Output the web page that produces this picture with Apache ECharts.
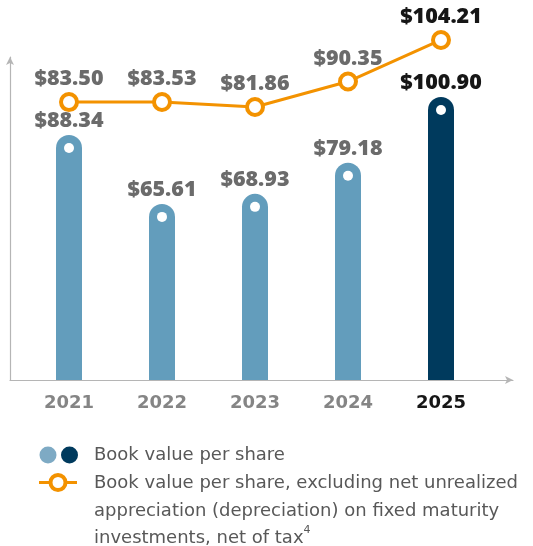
<!DOCTYPE html>
<html>
<head>
<meta charset="utf-8">
<script src="https://cdn.jsdelivr.net/npm/echarts@6/dist/echarts.min.js"></script>
<style>
  html, body { margin: 0; padding: 0; background: #fff; }
  #main { width: 533px; height: 546px; }
</style>
</head>
<body>
<div id="main"></div>
<script>
var years = ['2021', '2022', '2023', '2024', '2025'];
var bookValue = [88.34, 65.61, 68.93, 79.18, 100.90];
var bookValueExAoci = [83.50, 83.53, 81.86, 90.35, 104.21];

var gray = '#6b6b6b';
var black = '#161616';
var lightBlue = '#639dbc';
var darkBlue = '#003a5d';
var orange = '#f39200';
var font = 'Open Sans';
var legendFont = 'DejaVu Sans';
var last = years.length - 1;

function money(v) { return '$' + v.toFixed(2); }

var chart = echarts.init(document.getElementById('main'));

var option = {
  backgroundColor: '#fff',
  animation: false,
  grid: [
    { left: 22.5, right: 45.5, top: 30, bottom: 166 },
    { left: 10, right: 20, top: 57, bottom: 166 }
  ],
  xAxis: [
    {
      type: 'category', gridIndex: 0, data: years,
      axisLine: { show: false }, axisTick: { show: false },
      axisLabel: {
        margin: 14, fontFamily: 'DejaVu Sans', fontSize: 18, fontWeight: 'bold',
        color: function (v, i) { return i === last ? black : '#858585'; }
      }
    },
    {
      type: 'value', gridIndex: 1, min: 0, max: 1,
      axisLine: { show: true, symbol: ['none', 'arrow'], symbolSize: [6, 8], lineStyle: { color: '#b5b5b5', width: 1.2 } },
      axisTick: { show: false }, axisLabel: { show: false }, splitLine: { show: false }
    }
  ],
  yAxis: [
    { type: 'value', gridIndex: 0, min: 7.5, max: 123, show: false },
    { type: 'value', gridIndex: 0, min: -9.14, max: 107.53, show: false },
    {
      type: 'value', gridIndex: 1, min: 0, max: 1,
      axisLine: { show: true, symbol: ['none', 'arrow'], symbolSize: [6, 8], lineStyle: { color: '#b5b5b5', width: 1.2 } },
      axisTick: { show: false }, axisLabel: { show: false }, splitLine: { show: false }
    }
  ],
  series: [
    {
      type: 'bar', xAxisIndex: 0, yAxisIndex: 0,
      barWidth: 26,
      data: bookValue.map(function (v, i) {
        return {
          value: v,
          itemStyle: { color: i === last ? darkBlue : lightBlue },
          label: { color: i === last ? black : gray }
        };
      }),
      itemStyle: { borderRadius: [13, 13, 0, 0] },
      label: {
        show: true, position: 'top', distance: 3,
        fontFamily: font, fontSize: 21.5, fontWeight: 800,
        formatter: function (p) { return money(p.value); }
      }
    },
    {
      // white dots near the top of each bar
      type: 'scatter', xAxisIndex: 0, yAxisIndex: 0, silent: true,
      data: bookValue, symbol: 'circle', symbolSize: 10, symbolOffset: [0, 13],
      itemStyle: { color: '#fff', opacity: 1 }, z: 3
    },
    {
      type: 'line', xAxisIndex: 0, yAxisIndex: 1, z: 4,
      data: bookValueExAoci.map(function (v, i) {
        return { value: v, label: { color: i === last ? black : gray } };
      }),
      symbol: 'circle', symbolSize: 16, showAllSymbol: true,
      lineStyle: { color: orange, width: 3 },
      itemStyle: { color: '#fff', borderColor: orange, borderWidth: 4 },
      label: {
        show: true, position: 'top', distance: 2,
        fontFamily: font, fontSize: 21.5, fontWeight: 800,
        formatter: function (p) { return money(p.value); }
      },
      clip: false
    }
  ],
  graphic: [
    { type: 'circle', shape: { cx: 48, cy: 455, r: 8.5 }, style: { fill: '#7eaac4' } },
    { type: 'circle', shape: { cx: 69.5, cy: 455, r: 8.5 }, style: { fill: darkBlue } },
    {
      type: 'text', left: 94, top: 446,
      style: { text: 'Book value per share', fontFamily: legendFont, fontSize: 18, fill: '#585858' }
    },
    { type: 'line', shape: { x1: 39, y1: 482.5, x2: 77, y2: 482.5 }, style: { stroke: orange, lineWidth: 3 } },
    { type: 'circle', shape: { cx: 58, cy: 482.5, r: 7.5 }, style: { fill: '#fff', stroke: orange, lineWidth: 4 } },
    {
      type: 'text', left: 94, top: 470,
      style: {
        text: 'Book value per share, excluding net unrealized\nappreciation (depreciation) on fixed maturity\ninvestments, net of tax{s|4}',
        fontFamily: legendFont, fontSize: 18, lineHeight: 27.3, fill: '#585858',
        rich: { s: { fontSize: 11, verticalAlign: 'top', fill: '#585858', fontFamily: legendFont, padding: [0, 0, 8, 0] } }
      }
    }
  ]
};

chart.setOption(option);
</script>
</body>
</html>
